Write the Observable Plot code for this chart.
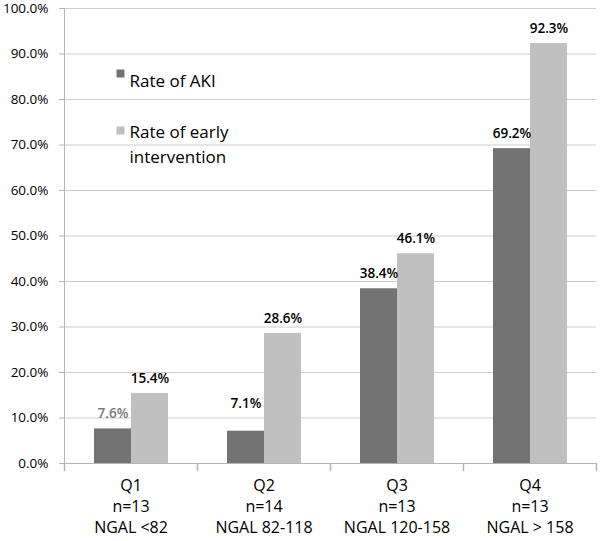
<!DOCTYPE html>
<html>
<head>
<meta charset="utf-8">
<script src="https://cdn.jsdelivr.net/npm/d3@7"></script>
<script src="https://cdn.jsdelivr.net/npm/@observablehq/plot@0.6"></script>
<style>
  html, body { margin: 0; padding: 0; background: #fff; }
</style>
</head>
<body>
<div id="chart"></div>
<script>
const groups = ["Q1", "Q2", "Q3", "Q4"];
const groupN = ["n=13", "n=14", "n=13", "n=13"];
const groupNgal = ["NGAL <82", "NGAL 82-118", "NGAL 120-158", "NGAL > 158"];
const series = ["Rate of AKI", "Rate of early intervention"];
const legendLabels = ["Rate of AKI", "Rate of early\nintervention"];
const akiRate = [0.076, 0.071, 0.384, 0.692];
const earlyRate = [0.154, 0.286, 0.461, 0.923];
const yTicks = [0, 0.1, 0.2, 0.3, 0.4, 0.5, 0.6, 0.7, 0.8, 0.9, 1.0];
const colors = ["#737373", "#c0c0c0"];

const data = groups.flatMap((g, i) => [
  {group: g, series: series[0], value: akiRate[i]},
  {group: g, series: series[1], value: earlyRate[i]}
]);
const pct = v => (v * 100).toFixed(1) + "%";
const gray = "#b4b4b4";
const tickShape = {draw(context, l) { context.moveTo(0, 0); context.lineTo(0, -l); }};

const isQ1Aki = d => d.group === "Q1" && d.series === series[0];
const isQ2Aki = d => d.group === "Q2" && d.series === series[0];

const chart = Plot.plot({
  width: 600,
  height: 541,
  marginLeft: 63,
  marginRight: 3,
  marginTop: 8,
  marginBottom: 78,
  style: {fontFamily: "'Open Sans', sans-serif", fontSize: "14px", color: "#000", background: "#fff"},
  fx: {domain: groups, padding: 0, label: null, axis: null},
  x: {domain: series, paddingInner: 0, paddingOuter: 0.76, axis: null},
  y: {domain: [0, 1], axis: null},
  color: {domain: series, range: colors},
  marks: [
    Plot.ruleY(yTicks, {stroke: "#cccccc"}),
    Plot.frame({anchor: "left", facetAnchor: "left", stroke: gray}),
    Plot.ruleY([0], {stroke: gray}),
    Plot.axisY({ticks: yTicks, tickFormat: pct, tickSize: 5, tickPadding: 11, stroke: gray, fill: "#000", fontSize: 13.5, label: null}),
    Plot.vector(groups, {fx: d => d, frameAnchor: "bottom-left", length: 7, rotate: 180, anchor: "start", stroke: gray, shape: tickShape}),
    Plot.vector(["Q4"], {fx: d => d, frameAnchor: "bottom-right", length: 7, rotate: 180, anchor: "start", stroke: gray, shape: tickShape}),
    Plot.axisFx({anchor: "bottom", tickSize: 0, tickPadding: 13, label: null, fontSize: 16, lineHeight: 1.3, fill: "#000",
      tickFormat: g => { const i = groups.indexOf(g); return g + "\n" + groupN[i] + "\n" + groupNgal[i]; }}),
    Plot.barY(data, {fx: "group", x: "series", y: "value", fill: "series"}),
    Plot.text(data.filter(d => !isQ1Aki(d) && !isQ2Aki(d)), {fx: "group", x: "series", y: "value", text: d => pct(d.value), dy: -15, fontSize: 13.5, fontWeight: 600, fill: "#000"}),
    Plot.text(data.filter(isQ1Aki), {fx: "group", x: "series", y: "value", text: d => pct(d.value), dy: -15, fontSize: 13.5, fontWeight: 600, fill: "#7a7a7a"}),
    Plot.text(data.filter(isQ2Aki), {fx: "group", x: "series", y: "value", text: d => pct(d.value), dy: -28, fontSize: 13.5, fontWeight: 600, fill: "#000"}),
    Plot.dot(["Q1"], {fx: d => d, frameAnchor: "top-left", dx: 56, dy: 65, symbol: "square", r: 4.5, fill: colors[0]}),
    Plot.dot(["Q1"], {fx: d => d, frameAnchor: "top-left", dx: 56, dy: 122, symbol: "square", r: 4.5, fill: colors[1]}),
    Plot.text(["Q1"], {fx: d => d, frameAnchor: "top-left", dx: 65, dy: 66, text: () => legendLabels[0], textAnchor: "start", fontSize: 17, fill: "#000"}),
    Plot.text(["Q1"], {fx: d => d, frameAnchor: "top-left", dx: 65, text: () => legendLabels[1], textAnchor: "start", lineAnchor: "top", fontSize: 17, lineHeight: 1.5, fill: "#000", dy: 111})
  ]
});
document.getElementById("chart").appendChild(chart);
</script>
</body>
</html>
